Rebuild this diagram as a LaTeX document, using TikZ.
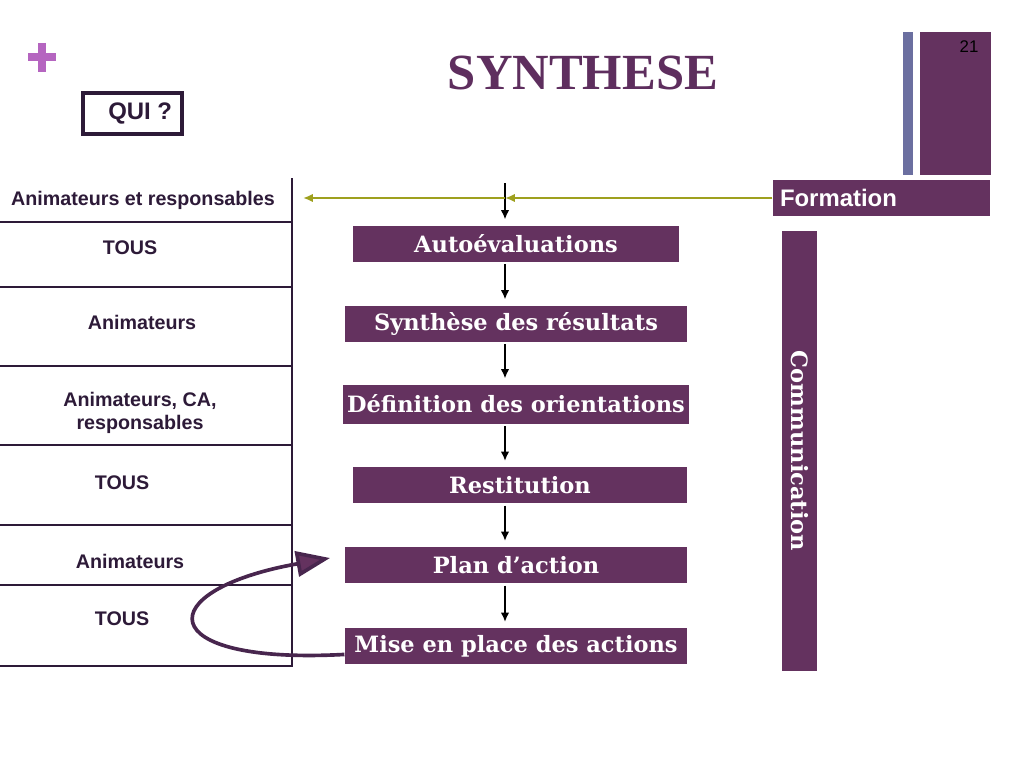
\documentclass[tikz,border=0pt]{standalone}
\usepackage{fontspec}
\setmainfont{Liberation Serif}
\setsansfont{Liberation Sans}
\newfontfamily\slab{DejaVu Serif}
\usetikzlibrary{arrows.meta}

\def\px{0.025cm}
\definecolor{prune}{RGB}{100,50,95}
\definecolor{prunefonce}{RGB}{72,38,78}
\definecolor{ardoise}{RGB}{107,111,160}
\definecolor{kaki}{RGB}{158,160,30}
\definecolor{encre}{RGB}{45,26,56}
\definecolor{titre}{RGB}{94,46,94}
\definecolor{orchidee}{RGB}{181,101,192}

\tikzset{
  etape/.style={fill=prune, text=white, inner sep=0pt,
    font=\slab\bfseries\fontsize{16}{18}\selectfont, minimum height=36*\px},
  qui/.style={text=encre, align=center,
    font=\sffamily\bfseries\fontsize{14}{16}\selectfont},
  fleche/.style={-{Latex[length=6.5pt,width=6pt]}, line width=1.1pt, shorten <=1.5pt, shorten >=4pt},
  ligne/.style={-{Latex[length=7pt,width=6pt]}, draw=kaki, line width=1.8pt},
  retour/.style={-{Triangle[length=24pt,width=18pt,fill=prune]}, draw=prunefonce,
    line width=2.6pt}
}

\begin{document}
\begin{tikzpicture}[x=\px,y=-\px,>=latex,thick]
\useasboundingbox (0,0) rectangle (1024,768);
\fill[white] (0,0) rectangle (1024,768);

% en-tete
\draw[orchidee, line width=5pt] (28,57) -- (56,57) (42,43) -- (42,72);
\node[font=\bfseries\fontsize{36}{40}\selectfont, text=titre] (titre) at (583,73) {SYNTHESE};
\fill[ardoise] (903,32) rectangle (913,175);
\fill[prune] (920,32) rectangle (991,175);
\node[font=\sffamily\fontsize{12}{14}\selectfont, text=black] (page) at (969,47) {21};
\node[draw=encre, line width=2.2pt, minimum width=99*\px, minimum height=41*\px,
  font=\sffamily\bfseries\fontsize{17}{20}\selectfont, text=encre, inner sep=0pt]
  (qui) at (132.5,113.5) {\hspace*{11pt}QUI ?};

% tableau des acteurs
\draw[line width=0.8pt, encre] (292,178) -- (292,666);
\foreach \y in {222,287,366,445,525,585,666}{
  \draw[line width=0.8pt, encre] (0,\y) -- (293,\y);
}
\node[qui] (r1) at (143,200) {Animateurs et responsables};
\node[qui] (r2) at (130,248) {TOUS};
\node[qui] (r3) at (142,322) {Animateurs};
\node[qui] (r4) at (140,413) {Animateurs, CA,\\responsables};
\node[qui] (r5) at (122,483) {TOUS};
\node[qui] (r6) at (130,561) {Animateurs};
\node[qui] (r7) at (122,619) {TOUS};

% etapes
\node[etape, minimum width=326*\px] (auto) at (516,243.5) {Autoévaluations};
\node[etape, minimum width=342*\px] (synth) at (516,323.5) {Synthèse des résultats};
\node[etape, minimum width=346*\px, minimum height=39*\px] (defin) at (516,404) {Définition des orientations};
\node[etape, minimum width=334*\px] (resti) at (520,485) {Restitution};
\node[etape, minimum width=342*\px] (plan) at (516,565) {Plan d’action};
\node[etape, minimum width=342*\px] (mise) at (516,646) {Mise en place des actions};

\coordinate (depart) at (505,183);
\draw[fleche, shorten <=0pt] (depart) -- (auto.north -| depart);
\foreach \a/\b in {auto/synth,synth/defin,defin/resti,resti/plan,plan/mise}{
  \draw[fleche] (\a.south -| depart) -- (\b.north -| depart);
}

% formation et communication
\node[fill=prune, text=white, minimum height=36*\px, text width=203*\px,
  inner xsep=7*\px, inner ysep=0pt, align=left,
  font=\sffamily\bfseries\fontsize{17}{19}\selectfont] (formation) at (881.5,198) {Formation};
\node[etape, rotate=-90, minimum width=440*\px, minimum height=35*\px] (comm) at (799.5,451) {Communication};

\coordinate (croise) at (505,198);
\coordinate (cible) at (303,198);
\draw[ligne] (formation.west) -- (croise);
\draw[ligne] (croise) -- (cible);

% boucle plan d'action
\coordinate (boucle) at (330,558);
\draw[retour] ([yshift=-6pt]mise.west) .. controls (150,665) and (150,590) .. (boucle);
\end{tikzpicture}
\end{document}
